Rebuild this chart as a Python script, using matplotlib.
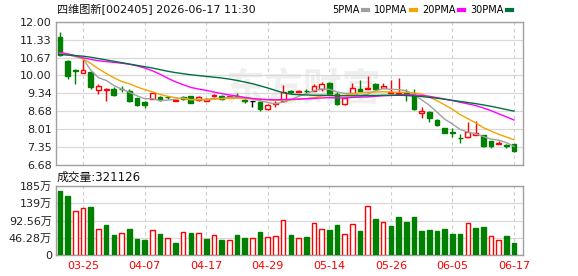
import matplotlib
matplotlib.use("Agg")
import matplotlib.pyplot as plt
from matplotlib.lines import Line2D

plt.rcParams["font.family"] = ["DejaVu Sans", "Noto Sans CJK SC"]

# trading days shown (60 sessions)
dates = ["03-20", "03-23", "03-24", "03-25", "03-26", "03-27", "03-30", "03-31",
         "04-01", "04-02", "04-03", "04-07", "04-08", "04-09", "04-10", "04-13",
         "04-14", "04-15", "04-16", "04-17", "04-20", "04-21", "04-22", "04-23",
         "04-24", "04-27", "04-28", "04-29", "04-30", "05-06", "05-07", "05-08",
         "05-11", "05-12", "05-13", "05-14", "05-15", "05-18", "05-19", "05-20",
         "05-21", "05-22", "05-25", "05-26", "05-27", "05-28", "05-29", "06-01",
         "06-02", "06-03", "06-04", "06-05", "06-08", "06-09", "06-10", "06-11",
         "06-12", "06-15", "06-16", "06-17"]
tick_dates = ["03-25", "04-07", "04-17", "04-29", "05-14", "05-26", "06-05", "06-17"]

opens = [11.42, 10.54, 10.19, 10.11, 10.13, 9.46, 9.46, 9.49, 9.50, 9.43,
         9.17, 9.02, 9.13, 9.20, 9.21, 9.06, 9.22, 9.23, 9.09, 9.07,
         9.23, 9.24, 9.19, 9.26, 9.09, 9.06, 9.03, 8.76, 8.94, 9.07,
         9.41, 9.40, 9.43, 9.44, 9.51, 9.74, 9.32, 8.94, 9.37, 9.49,
         9.52, 9.69, 9.55, 9.37, 9.32, 9.36, 9.28, 8.60, 8.66, 8.35,
         8.06, 7.90, 7.69, 7.71, 7.81, 7.79, 7.57, 7.46, 7.41, 7.45]
highs = [11.60, 10.58, 10.23, 10.60, 10.15, 9.69, 9.53, 9.56, 9.61, 9.49,
         9.18, 9.06, 9.37, 9.24, 9.26, 9.10, 9.26, 9.26, 9.24, 9.16,
         9.33, 9.28, 9.25, 9.34, 9.12, 9.07, 9.06, 8.93, 9.07, 9.64,
         9.48, 9.47, 9.50, 9.69, 9.77, 9.75, 9.40, 9.16, 9.74, 9.84,
         9.97, 9.72, 9.74, 9.84, 9.90, 9.49, 9.49, 8.84, 8.67, 8.37,
         8.07, 8.04, 7.82, 8.26, 8.32, 7.80, 7.58, 7.57, 7.46, 7.47]
lows = [10.73, 9.88, 9.68, 10.09, 9.51, 9.33, 9.07, 9.24, 9.40, 9.02,
        8.87, 8.80, 9.12, 9.07, 9.14, 9.05, 9.08, 8.97, 9.07, 9.05,
        9.21, 9.10, 9.17, 9.16, 9.00, 8.84, 8.68, 8.74, 8.84, 9.03,
        9.32, 9.38, 9.34, 9.42, 9.44, 9.28, 8.91, 8.91, 9.30, 9.40,
        9.51, 9.46, 9.53, 9.36, 9.31, 9.07, 8.74, 8.41, 8.29, 8.13,
        7.86, 7.71, 7.51, 7.67, 7.80, 7.34, 7.30, 7.45, 7.30, 7.15]
closes = [10.76, 9.98, 10.17, 10.21, 9.56, 9.60, 9.51, 9.28, 9.49, 9.07,
          8.92, 8.91, 9.35, 9.09, 9.19, 9.08, 9.12, 9.00, 9.20, 9.12,
          9.29, 9.13, 9.23, 9.22, 9.04, 9.06, 8.75, 8.91, 8.99, 9.40,
          9.38, 9.42, 9.41, 9.60, 9.69, 9.32, 8.93, 9.15, 9.53, 9.41,
          9.54, 9.50, 9.61, 9.40, 9.36, 9.32, 8.75, 8.68, 8.41, 8.16,
          7.88, 7.86, 7.67, 7.90, 7.86, 7.37, 7.39, 7.49, 7.40, 7.20]
# volume in 万 (10k shares)
volume = [171.7, 158.3, 118.0, 125.0, 128.8, 69.8, 80.5, 53.7, 58.1, 69.8,
          43.8, 41.1, 67.1, 56.3, 45.6, 32.2, 61.7, 59.0, 58.1, 42.9,
          52.8, 41.1, 40.2, 53.7, 45.6, 44.7, 61.7, 48.3, 51.0, 93.9,
          53.7, 44.7, 48.3, 85.0, 69.8, 67.1, 80.5, 55.4, 82.3, 64.4,
          130.6, 96.6, 87.6, 77.8, 102.0, 88.5, 102.0, 64.4, 67.1, 64.4,
          69.8, 56.3, 56.3, 85.0, 72.4, 75.1, 50.1, 40.2, 51.0, 32.1]

ma5 = [10.83, 10.78, 10.70, 10.62, 10.20, 9.92, 9.82, 9.63, 9.50, 9.38,
       9.25, 9.14, 9.14, 9.07, 9.09, 9.12, 9.17, 9.10, 9.12, 9.11,
       9.15, 9.15, 9.19, 9.20, 9.18, 9.14, 9.06, 9.00, 8.95, 9.02,
       9.10, 9.23, 9.32, 9.44, 9.50, 9.49, 9.39, 9.34, 9.33, 9.27,
       9.31, 9.43, 9.52, 9.49, 9.48, 9.44, 9.29, 9.10, 8.90, 8.64,
       8.38, 8.20, 8.00, 7.90, 7.84, 7.74, 7.64, 7.60, 7.51, 7.37]
ma10 = [10.85, 10.80, 10.73, 10.62, 10.45, 10.25, 10.08, 9.92, 9.78, 9.70,
        9.58, 9.48, 9.40, 9.30, 9.23, 9.18, 9.14, 9.11, 9.10, 9.10,
        9.12, 9.14, 9.15, 9.16, 9.15, 9.14, 9.12, 9.10, 9.08, 9.09,
        9.10, 9.12, 9.14, 9.18, 9.24, 9.27, 9.26, 9.27, 9.32, 9.36,
        9.38, 9.39, 9.40, 9.39, 9.38, 9.38, 9.36, 9.31, 9.20, 9.07,
        8.91, 8.75, 8.55, 8.40, 8.25, 8.07, 7.94, 7.82, 7.72, 7.62]
ma20 = [10.86, 10.80, 10.74, 10.66, 10.60, 10.55, 10.52, 10.49, 10.46, 10.42,
        10.36, 10.28, 10.18, 10.05, 9.90, 9.77, 9.66, 9.56, 9.50, 9.45,
        9.39, 9.33, 9.28, 9.24, 9.19, 9.15, 9.12, 9.11, 9.10, 9.11,
        9.12, 9.13, 9.14, 9.15, 9.17, 9.18, 9.17, 9.17, 9.19, 9.20,
        9.21, 9.23, 9.25, 9.26, 9.28, 9.30, 9.28, 9.26, 9.23, 9.18,
        9.13, 9.07, 9.01, 8.95, 8.89, 8.80, 8.70, 8.58, 8.47, 8.35]
ma30 = [10.78, 10.76, 10.74, 10.72, 10.68, 10.63, 10.58, 10.53, 10.48, 10.43,
        10.38, 10.33, 10.28, 10.22, 10.16, 10.11, 10.07, 10.03, 10.00, 9.97,
        9.94, 9.91, 9.87, 9.82, 9.76, 9.70, 9.62, 9.54, 9.45, 9.36,
        9.31, 9.29, 9.28, 9.27, 9.27, 9.26, 9.25, 9.25, 9.25, 9.25,
        9.26, 9.26, 9.27, 9.27, 9.27, 9.26, 9.24, 9.22, 9.19, 9.16,
        9.12, 9.08, 9.04, 9.00, 8.96, 8.91, 8.86, 8.80, 8.74, 8.68]

price_ticks = [6.68, 7.345, 8.01, 8.675, 9.34, 10.005, 10.67, 11.335, 12.00]
price_labels = ["6.68", "7.35", "8.01", "8.68", "9.34", "10.00", "10.67", "11.33", "12.00"]
vol_ticks = [0, 46.28, 92.56, 138.84, 185.12]
vol_labels = ["0", "46.28万", "92.56万", "139万", "185万"]

title = "四维图新[002405] 2026-06-17 11:30"
vol_title = "成交量:321126"

RED = "#ff0000"
GREEN = "#008000"
GRID = "#d9d9d9"
FRAME = "#a0a0a0"
MA_COLORS = {"5PMA": "#a0a0a0", "10PMA": "#f5a300", "20PMA": "#ff00ff", "30PMA": "#00703c"}

W, H = 578, 276
fig = plt.figure(figsize=(W / 100, H / 100), dpi=100)
ax_p = fig.add_axes([56 / W, 1 - 165 / H, (523 - 56) / W, (165 - 21.7) / H])
ax_v = fig.add_axes([56 / W, 1 - 255 / H, (523 - 56) / W, (255 - 186) / H])

xs = list(range(len(dates)))
tick_idx = [dates.index(d) for d in tick_dates]


def style(ax):
    for s in ax.spines.values():
        s.set_color(FRAME)
        s.set_linewidth(1.0)
    ax.set_xlim(-0.52, 60.17)
    ax.tick_params(length=0, labelsize=8, labelcolor="#222222", pad=3)
    ax.yaxis.grid(True, color=GRID, linewidth=0.9)
    for t in tick_idx:
        ax.axvline(t, color="#cccccc", linestyle=(0, (3, 3)), linewidth=0.8, zorder=0)
    ax.set_axisbelow(True)


# price panel
style(ax_p)
ax_p.set_ylim(6.68, 12.00)
ax_p.set_yticks(price_ticks)
ax_p.set_yticklabels(price_labels)
ax_p.set_xticks([])
ax_p.text(0.53, 0.52, "东方财富", transform=ax_p.transAxes, fontsize=28,
          color="#efefef", ha="center", va="center", fontweight="bold", zorder=0)

for x, o, h, l, c in zip(xs, opens, highs, lows, closes):
    if c > o:
        col, face = RED, "white"
    elif c < o:
        col, face = GREEN, GREEN
    else:
        col, face = "black", "black"
    ax_p.vlines(x, l, h, color=col, linewidth=1.0, zorder=3)
    if c == o:
        ax_p.hlines(o, x - 0.33, x + 0.33, color=col, linewidth=1.0, zorder=4)
    else:
        ax_p.bar(x, abs(c - o), bottom=min(o, c), width=0.62, facecolor=face,
                 edgecolor=col, linewidth=1.0, zorder=4)

for name, vals in zip(MA_COLORS, [ma5, ma10, ma20, ma30]):
    ax_p.plot(xs, vals, color=MA_COLORS[name], linewidth=1.0, zorder=5)

# volume panel
style(ax_v)
ax_v.set_ylim(0, 185.12)
ax_v.set_yticks(vol_ticks)
ax_v.set_yticklabels(vol_labels)
ax_v.set_xticks(tick_idx)
ax_v.set_xticklabels(tick_dates, color=RED)
ax_v.tick_params(axis="x", labelcolor=RED, pad=4)
for i, v in enumerate(volume):
    up = closes[i] > closes[i - 1] if i > 0 else closes[i] > opens[i]
    if up:
        ax_v.bar(i, v, width=0.6, facecolor="white", edgecolor=RED, linewidth=1.0, zorder=3)
    else:
        ax_v.bar(i, v, width=0.6, facecolor=GREEN, edgecolor=GREEN, linewidth=1.0, zorder=3)

fig.text(57 / W, 1 - 10 / H, title, fontsize=8, va="center", ha="left", color="#111111")
fig.text(57 / W, 1 - 177.5 / H, vol_title, fontsize=8.5, va="center", ha="left", color="#111111")

handles = [Line2D([0], [0], color=c, linewidth=3) for c in MA_COLORS.values()]
fig.legend(handles, list(MA_COLORS), loc="center right", bbox_to_anchor=(512 / W, 1 - 10 / H),
           ncol=4, frameon=False, markerfirst=False, fontsize=7, handlelength=0.5,
           handletextpad=0.4, columnspacing=0.6, borderpad=0, borderaxespad=0)

fig.savefig("out.png", dpi=100)
